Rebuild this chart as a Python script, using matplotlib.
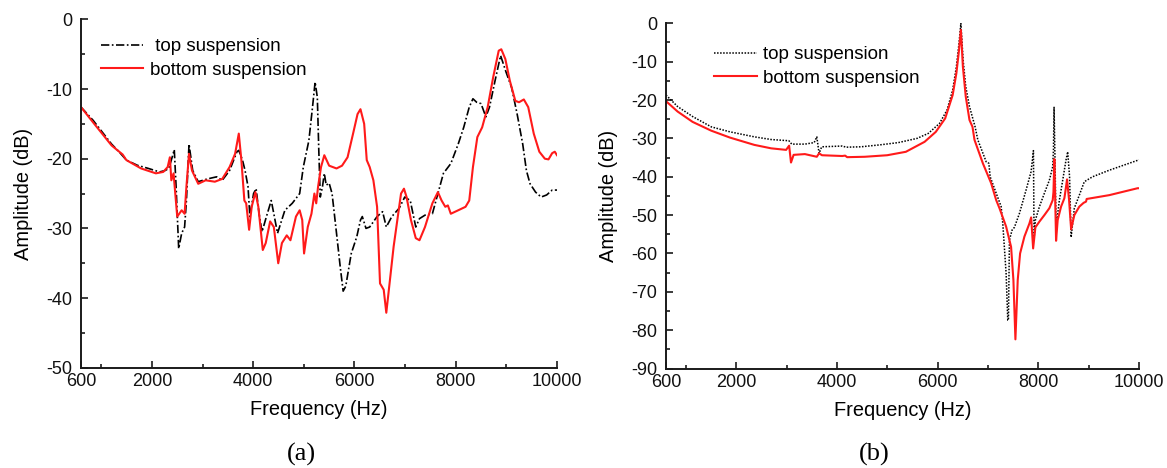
import matplotlib
matplotlib.use("Agg")
import matplotlib.pyplot as plt
from matplotlib.ticker import MultipleLocator, FixedLocator

plt.rcParams['font.family'] = ['Liberation Sans', 'DejaVu Sans']
plt.rcParams['axes.unicode_minus'] = False

# ---- (a) measured response ----
freq_a_top = [600, 840, 1204, 1350, 1496, 1714, 1932, 2151, 2260, 2333, 2384, 2442,
              2478, 2529, 2588, 2646, 2682, 2733, 2806, 2915, 3097, 3279, 3389, 3534,
              3680, 3716, 3789, 3840, 3898, 3935, 4008, 4058, 4117, 4175, 4262, 4357,
              4408, 4481, 4626, 4772, 4918, 4990, 5100, 5172, 5223, 5267, 5296, 5325,
              5369, 5405, 5442, 5500, 5558, 5646, 5719, 5777, 5828, 5937, 6046, 6119,
              6155, 6228, 6301, 6447, 6556, 6629, 6738, 6884, 6993, 7102, 7211, 7284,
              7393, 7539, 7648, 7757, 7903, 8049, 8158, 8267, 8340, 8413, 8500, 8595,
              8667, 8777, 8886, 8995, 9104, 9213, 9323, 9396, 9468, 9577, 9687, 9796,
              9905, 10000]
amp_a_top = [-12.6, -14.5, -17.9, -19.0, -20.2, -20.95, -21.4, -21.9, -21.7, -21.4, -20.2, -18.7,
             -24.0, -32.9, -30.7, -29.8, -26.0, -17.9, -21.7, -23.3, -22.9, -22.6, -23.1, -21.7,
             -19.0, -18.8, -20.2, -21.7, -24.0, -28.3, -25.0, -24.3, -27.9, -30.5, -28.3, -26.0,
             -27.9, -30.7, -27.4, -26.4, -25.0, -21.2, -17.4, -12.6, -9.0, -11.2, -18.8, -25.5,
             -24.0, -22.1, -23.8, -23.5, -25.0, -30.7, -35.5, -39.0, -38.3, -33.6, -31.2, -28.8,
             -28.3, -30.0, -29.8, -28.3, -27.6, -29.8, -28.3, -27.1, -25.5, -26.0, -29.8, -28.6,
             -28.1, -27.9, -25.0, -22.1, -20.7, -17.9, -15.5, -12.6, -11.4, -11.9, -12.1, -14.0,
             -12.6, -8.8, -5.2, -7.6, -9.8, -13.6, -17.9, -21.7, -23.6, -24.8, -25.5, -25.2,
             -24.5, -24.5]

freq_a_bot = [600, 840, 1204, 1423, 1496, 1787, 2078, 2224, 2311, 2355, 2384, 2428,
              2500, 2588, 2646, 2682, 2733, 2792, 2915, 3061, 3243, 3389, 3534, 3643,
              3716, 3767, 3826, 3862, 3920, 3971, 4044, 4102, 4190, 4248, 4335, 4408,
              4495, 4568, 4663, 4736, 4845, 4918, 4969, 5005, 5078, 5151, 5209, 5245,
              5282, 5340, 5405, 5500, 5646, 5755, 5864, 5973, 6061, 6119, 6192, 6243,
              6301, 6374, 6447, 6505, 6578, 6629, 6701, 6774, 6847, 6920, 6978, 7029,
              7116, 7211, 7284, 7393, 7539, 7648, 7721, 7794, 7845, 7903, 8049, 8194,
              8267, 8340, 8427, 8522, 8631, 8740, 8849, 8900, 8980, 9068, 9177, 9250,
              9345, 9432, 9541, 9651, 9760, 9832, 9905, 9956, 10000]
amp_a_bot = [-12.6, -14.8, -18.1, -19.4, -20.2, -21.4, -22.1, -21.9, -21.2, -19.8, -23.1, -22.1,
             -28.3, -27.4, -27.9, -24.0, -19.3, -21.7, -23.6, -23.1, -23.3, -22.9, -21.2, -19.3,
             -16.4, -20.2, -26.0, -26.4, -30.2, -26.9, -24.8, -26.9, -33.1, -32.1, -29.0, -29.8,
             -35.0, -32.1, -31.0, -31.7, -28.3, -27.4, -28.8, -33.6, -29.8, -27.9, -25.0, -26.4,
             -24.0, -21.2, -19.5, -21.0, -21.4, -21.0, -19.8, -16.4, -13.6, -12.9, -15.0, -20.2,
             -21.2, -23.1, -26.9, -37.9, -38.8, -42.1, -37.4, -32.6, -28.8, -25.0, -24.3, -25.5,
             -28.8, -31.4, -31.7, -29.8, -26.4, -24.8, -26.0, -26.9, -26.7, -27.9, -27.4, -26.9,
             -26.0, -21.2, -16.9, -15.5, -12.6, -8.3, -4.5, -4.3, -5.7, -8.8, -11.7, -11.9,
             -11.5, -12.6, -16.4, -19.0, -20.0, -20.1, -19.2, -19.0, -19.5]

# ---- (b) simulated response ----
freq_b_top = [600, 830, 1128, 1500, 1872, 2355, 2690, 3024, 3040, 3099, 3360, 3545,
              3597, 3642, 3694, 4103, 4180, 4475, 4847, 5218, 5590, 5813, 6036, 6185,
              6297, 6371, 6423, 6460, 6505, 6557, 6631, 6743, 6797, 6963, 7016, 7042,
              7162, 7261, 7293, 7359, 7392, 7405, 7425, 7478, 7524, 7623, 7755, 7855,
              7902, 7915, 7941, 8021, 8120, 8219, 8285, 8300, 8312, 8330, 8352, 8418,
              8484, 8550, 8583, 8620, 8651, 8715, 8814, 8913, 9079, 9410, 10000]
amp_b_top = [-18.7, -21.7, -24.3, -27.0, -28.3, -29.6, -30.3, -30.6, -30.6, -31.5, -31.5, -31.1,
             -29.6, -33.9, -32.2, -32.0, -32.3, -32.2, -31.7, -31.1, -30.0, -28.7, -26.1, -22.6,
             -17.4, -11.3, -5.2, 0.0, -9.6, -16.5, -21.7, -27.0, -30.4, -36.1, -36.5, -40.0,
             -44.3, -47.8, -52.2, -65.2, -77.4, -77.4, -56.5, -53.9, -53.2, -49.6, -43.5, -38.7,
             -33.2, -56.1, -51.3, -47.8, -44.3, -40.9, -37.4, -33.0, -21.9, -35.0, -53.0, -46.1,
             -40.9, -35.6, -33.5, -40.0, -55.8, -48.2, -44.8, -41.3, -40.0, -38.3, -35.6]

freq_b_bot = [600, 830, 1128, 1500, 1872, 2355, 2690, 2987, 3047, 3084, 3136, 3360,
              3597, 3642, 3700, 4103, 4160, 4200, 4549, 4995, 5367, 5739, 5962, 6148,
              6297, 6371, 6423, 6460, 6500, 6557, 6631, 6691, 6731, 6897, 7062, 7162,
              7227, 7359, 7458, 7504, 7544, 7590, 7637, 7723, 7822, 7857, 7896, 7941,
              8021, 8120, 8219, 8285, 8300, 8318, 8352, 8384, 8451, 8517, 8550, 8570,
              8610, 8651, 8715, 8814, 8900, 8947, 8960, 9410, 9972, 10000]
amp_b_bot = [-20.3, -23.0, -25.7, -28.0, -29.8, -31.7, -32.6, -33.0, -31.9, -36.3, -34.3, -34.1,
             -34.8, -33.9, -34.4, -34.6, -34.5, -34.9, -34.8, -34.4, -33.5, -30.9, -28.3, -24.8,
             -18.7, -13.0, -7.0, -1.7, -11.3, -19.1, -25.2, -27.0, -30.4, -36.5, -41.7, -46.1,
             -48.2, -53.0, -58.3, -66.9, -82.4, -66.9, -60.0, -55.6, -52.2, -50.6, -58.7, -53.2,
             -51.7, -50.0, -48.2, -46.1, -44.0, -35.4, -56.7, -51.3, -47.8, -45.6, -42.6, -40.7,
             -46.0, -53.7, -50.0, -47.8, -46.8, -46.5, -45.8, -44.8, -43.0, -43.0]

x_major = [600, 2000, 4000, 6000, 8000, 10000]
x_minor = [1000, 3000, 5000, 7000, 9000]
label_top = " top suspension"
label_top_b = "top suspension"
label_bot = "bottom suspension"

W, H = 1167, 468
fig = plt.figure(figsize=(W / 100, H / 100), dpi=100)


def panel(left, right, top, bottom):
    return fig.add_axes([left / W, 1 - bottom / H, (right - left) / W, (bottom - top) / H])


def style(ax, ylim):
    ax.set_xlim(600, 10000)
    ax.set_ylim(*ylim)
    for s in ("top", "right"):
        ax.spines[s].set_visible(False)
    for s in ("left", "bottom"):
        ax.spines[s].set_linewidth(1.4)
        ax.spines[s].set_color("#1a1a1a")
    ax.xaxis.set_major_locator(FixedLocator(x_major))
    ax.xaxis.set_minor_locator(FixedLocator(x_minor))
    ax.yaxis.set_major_locator(MultipleLocator(10))
    ax.yaxis.set_minor_locator(MultipleLocator(5))
    ax.tick_params(which="both", direction="in", color="#1a1a1a", width=1.2,
                   labelsize=13, labelcolor="#111111")
    ax.tick_params(which="major", length=5)
    ax.tick_params(which="minor", length=3)
    ax.tick_params(axis="x", pad=4)
    ax.tick_params(axis="y", pad=6.5)
    ax.set_xlabel("Frequency (Hz)", fontsize=14.4, labelpad=7)
    ax.set_ylabel("Amplitude (dB)", fontsize=14.4, labelpad=9)


ax1 = panel(81, 557, 19.3, 367.8)
ax2 = panel(666, 1139, 23.3, 368.5)

ax1.plot(freq_a_top, amp_a_top, color="black", lw=1.2, ls=(0, (5, 1.5, 1, 1.5)), label=label_top)
ax1.plot(freq_a_bot, amp_a_bot, color="#ff1a1a", lw=1.5, label=label_bot)
style(ax1, (-50, 0))

ax2.plot(freq_b_top, amp_b_top, color="black", lw=1.1, ls=(0, (1, 1)), label=label_top_b)
ax2.plot(freq_b_bot, amp_b_bot, color="#ff1a1a", lw=1.5, label=label_bot)
style(ax2, (-90, 0))

# legend anchors given as (left px, top px) in figure pixels
for ax, (lx, ty), hlen, hpad in ((ax1, (101, 38), 2.25, 0.38), (ax2, (714, 46), 2.3, 0.3)):
    ax.legend(loc="upper left", bbox_to_anchor=(lx / W, 1 - ty / H),
              bbox_transform=fig.transFigure, frameon=False, fontsize=13.5,
              handlelength=hlen, handletextpad=hpad, labelspacing=0.35,
              borderpad=0, borderaxespad=0)

fig.text(301 / W, 1 - 461 / H, "(a)", ha="center", va="baseline",
         family=["Liberation Serif", "DejaVu Serif"], fontsize=19)
fig.text(874 / W, 1 - 461 / H, "(b)", ha="center", va="baseline",
         family=["Liberation Serif", "DejaVu Serif"], fontsize=19)

fig.savefig("out.png", dpi=100)
